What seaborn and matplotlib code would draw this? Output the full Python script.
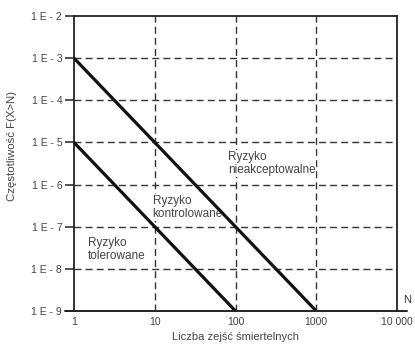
import matplotlib
matplotlib.use("Agg")
import matplotlib.pyplot as plt
import seaborn as sns
import pandas as pd
from matplotlib.lines import Line2D

# Data
upper_N = [1, 1000]
upper_F = [1e-3, 1e-9]
lower_N = [1, 100]
lower_F = [1e-5, 1e-9]
x_ticks = [1, 10, 100, 1000, 10000]
x_tick_labels = ["1", "10", "100", "1000", "10 000"]
y_ticks = [1e-9, 1e-8, 1e-7, 1e-6, 1e-5, 1e-4, 1e-3, 1e-2]
y_tick_labels = ["1 E - 9", "1 E - 8", "1 E - 7", "1 E - 6", "1 E - 5", "1 E - 4", "1 E - 3", "1 E - 2"]
region_labels = ["Ryzyko\nnieakceptowalne", "Ryzyko\nkontrolowane", "Ryzyko\ntolerowane"]
region_pos = [(80, 10**-5.2), (9.4, 10**-6.24), (1.48, 10**-7.24)]

sns.set_theme(style="white")
plt.rcParams['font.family'] = ['Liberation Sans', 'DejaVu Sans']

df = pd.concat([
    pd.DataFrame({"N": upper_N, "F": upper_F, "s": "upper"}),
    pd.DataFrame({"N": lower_N, "F": lower_F, "s": "lower"}),
])

fig = plt.figure(figsize=(4.15, 3.44), dpi=100)
ax = fig.add_axes([74/415, 33/344, (397-74)/415, (311-16)/344])

ax.set_xscale("log")
ax.set_yscale("log")
ax.set_xlim(1, 10000)
ax.set_ylim(1e-9, 1e-2)

# grid
for xv in x_ticks[1:-1]:
    ax.axvline(xv, color="#333333", lw=1.0, ls=(0, (5, 3)), zorder=1)
for yv in y_ticks[1:-1]:
    ax.axhline(yv, color="#333333", lw=1.0, ls=(0, (5, 3)), zorder=1)

sns.lineplot(data=df, x="N", y="F", units="s", estimator=None, color="#111111",
             lw=2.3, ax=ax, zorder=3, legend=False)

ax.set_xticks(x_ticks)
ax.set_xticklabels(x_tick_labels)
ax.set_yticks(y_ticks)
ax.set_yticklabels(y_tick_labels)
ax.minorticks_off()
ax.tick_params(axis="x", length=0, labelsize=7.5, pad=4)
ax.tick_params(axis="y", length=6.5, width=1.2, labelsize=7.5, pad=2,
               left=True, color="#333333")
for lab in ax.get_yticklabels() + ax.get_xticklabels():
    lab.set_color("#444444")

for sp in ax.spines.values():
    sp.set_color("#222222")
    sp.set_linewidth(1.3)
ax.spines["bottom"].set_visible(False)

# extended x axis line
ax.add_line(Line2D([-0.028, 1.031], [0, 0], transform=ax.transAxes, color="#222222",
                   lw=1.4, clip_on=False, zorder=5))

for lab, (xv, yv) in zip(region_labels, region_pos):
    ax.text(xv, yv, lab, ha="left", va="top", fontsize=8.5, color="#444444", linespacing=1.15,
            zorder=2, bbox=dict(boxstyle="square,pad=0.1", fc="white", ec="none"))

ax.text(1.02, 0.02, "N", transform=ax.transAxes, ha="left", va="bottom", fontsize=8, color="#333333")

ax.set_xlabel("Liczba zejść śmiertelnych", fontsize=8, color="#444444", labelpad=4)
ax.set_ylabel("")
fig.text(12/415, 1 - 146/344, "Częstotliwość F(X>N)", rotation=90, ha="center", va="center",
         fontsize=8.2, color="#444444")

fig.savefig("out.png", dpi=100)
